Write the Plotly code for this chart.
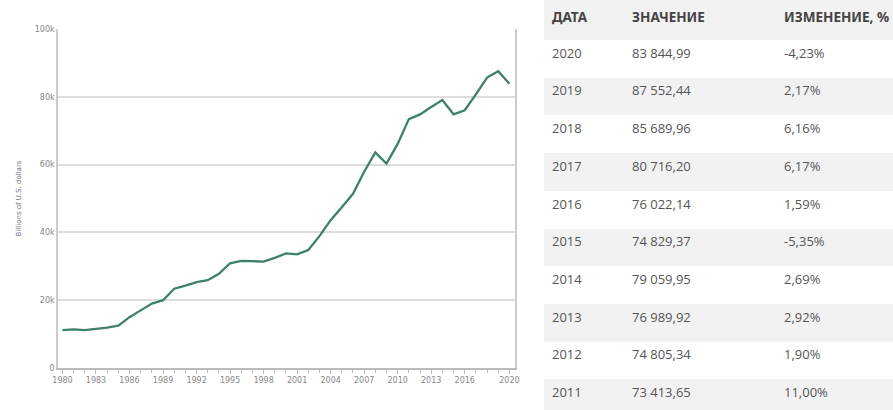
import plotly.graph_objects as go

years = list(range(1980, 2021))
gdp = [11200, 11400, 11200, 11500, 11900, 12500, 15000, 17000, 19000, 20000,
       23400, 24300, 25300, 25900, 27800, 30900, 31600, 31500, 31400, 32500,
       33800, 33500, 34800, 38900, 43600, 47400, 51400, 57900, 63600, 60300,
       66100, 73413.65, 74805.34, 76989.92, 79059.95, 74829.37, 76022.14,
       80716.20, 85689.96, 87552.44, 83844.99]

x_tick_vals = [1980, 1983, 1986, 1989, 1992, 1995, 1998, 2001, 2004, 2007, 2010, 2013, 2016, 2020]
y_tick_vals = [0, 20000, 40000, 60000, 80000, 100000]
y_tick_text = ["0", "20k", "40k", "60k", "80k", "100k"]

tbl_header = ["ДАТА", "ЗНАЧЕНИЕ", "ИЗМЕНЕНИЕ,\u00a0%"]
tbl_dates = ["2020", "2019", "2018", "2017", "2016", "2015", "2014", "2013", "2012", "2011"]
tbl_values = ["83\u00a0844,99", "87\u00a0552,44", "85\u00a0689,96", "80\u00a0716,20", "76\u00a0022,14",
              "74\u00a0829,37", "79\u00a0059,95", "76\u00a0989,92", "74\u00a0805,34", "73\u00a0413,65"]
tbl_change = ["-4,23%", "2,17%", "6,16%", "6,17%", "1,59%",
              "-5,35%", "2,69%", "2,92%", "1,90%", "11,00%"]

W, H = 893, 410
line_color = "#3f8068"
row_fill = ["#ffffff" if i % 2 == 0 else "#f2f2f2" for i in range(len(tbl_dates))]

fig = go.Figure()
fig.add_trace(go.Scatter(x=years, y=gdp, mode="lines",
                         line=dict(color=line_color, width=2.3),
                         hoverinfo="skip", showlegend=False))

fig.add_trace(go.Table(
    domain=dict(x=[544 / W, 1], y=[0, 1]),
    columnwidth=[80, 152, 117],
    header=dict(values=["<b>%s</b>" % h for h in tbl_header],
                fill_color="#f2f2f2", line=dict(color="rgba(0,0,0,0)", width=0),
                align="left", height=40,
                font=dict(family="Noto Sans", size=13.5, color="#444444")),
    cells=dict(values=[tbl_dates, tbl_values, tbl_change],
               fill_color=[row_fill], line=dict(color="rgba(0,0,0,0)", width=0),
               align="left", height=37.7,
               font=dict(family="Open Sans", size=13, color="#555555")),
))

fig.update_layout(
    width=W, height=H,
    margin=dict(l=0, r=0, t=0, b=0, pad=0, autoexpand=False),
    paper_bgcolor="white", plot_bgcolor="white",
    xaxis=dict(domain=[58 / W, 515 / W], range=[1979.6, 2020.5], automargin=False,
               tickvals=x_tick_vals, ticktext=[str(v) for v in x_tick_vals],
               ticks="outside", ticklen=4, tickcolor="#bbbbbb",
               minor=dict(dtick=1, tick0=1980, ticks="outside", ticklen=3, tickcolor="#bbbbbb"),
               showgrid=False, showline=True, linecolor="#bbbbbb", linewidth=1.5,
               zeroline=False,
               tickfont=dict(family="DejaVu Sans", size=8, color="#888888")),
    yaxis=dict(domain=[42 / H, 381 / H], range=[0, 100000], automargin=False,
               tickvals=y_tick_vals, ticktext=y_tick_text,
               showgrid=True, gridcolor="#dddddd", gridwidth=1.5,
               showline=True, linecolor="#cccccc", linewidth=1.5, mirror=True,
               zeroline=False, ticks="",
               tickfont=dict(family="DejaVu Sans", size=8, color="#888888"),
               title=dict(text="Billions of U.S. dollars", standoff=12,
                          font=dict(family="DejaVu Sans", size=7, color="#6a6f8a"))),
)

fig.write_html("out.html", config={"displayModeBar": False},
               post_script="document.body.style.margin='0px';")
